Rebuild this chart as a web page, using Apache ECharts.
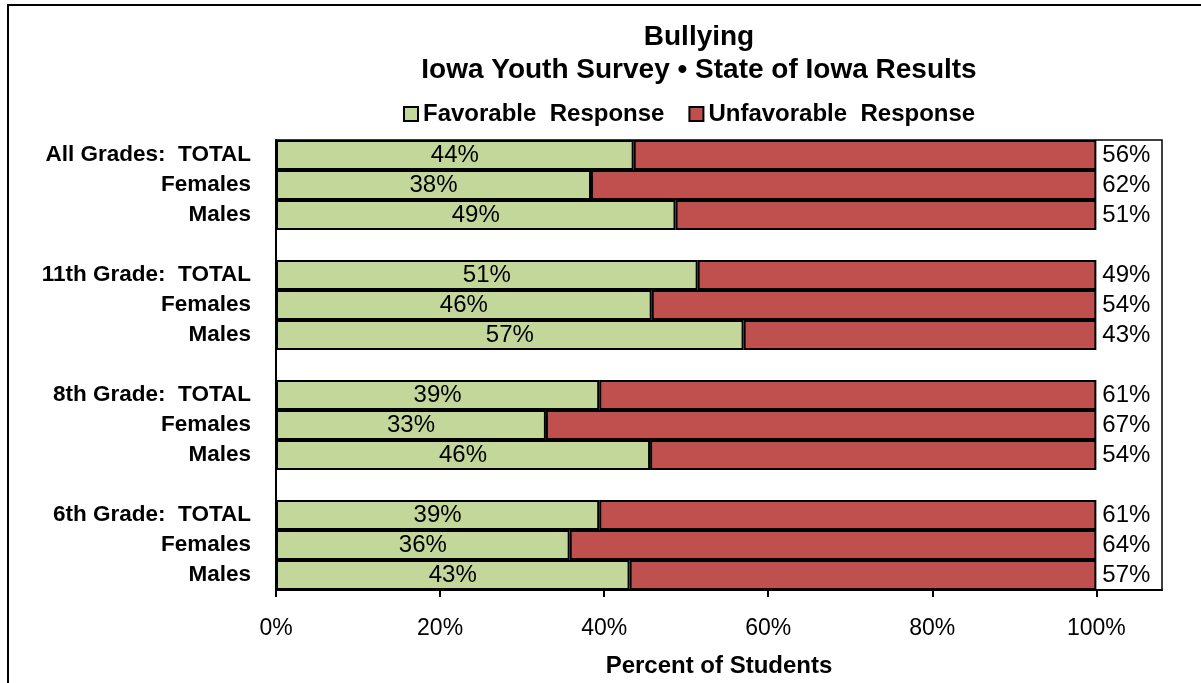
<!DOCTYPE html>
<html>
<head>
<meta charset="utf-8">
<script src="https://cdn.jsdelivr.net/npm/echarts@6/dist/echarts.min.js"></script>
<style>
  html, body { margin: 0; padding: 0; background: #fff; }
  #chart { width: 1201px; height: 683px; }
</style>
</head>
<body>
<div id="chart"></div>
<script>
// rows, top to bottom; '' rows are the gaps between grade groups
var categories = [
    'All Grades:  TOTAL', 'Females', 'Males', '',
    '11th Grade:  TOTAL', 'Females', 'Males', '',
    '8th Grade:  TOTAL', 'Females', 'Males', '',
    '6th Grade:  TOTAL', 'Females', 'Males'
];
var favorable = [43.6, 38.4, 48.7, '-', 51.4, 45.8, 57.0, '-', 39.4, 32.9, 45.6, '-', 39.4, 35.8, 43.1];
var unfavorable = [56.4, 61.6, 51.3, '-', 48.6, 54.2, 43.0, '-', 60.6, 67.1, 54.4, '-', 60.6, 64.2, 56.9];
var tickValues = [0, 20, 40, 60, 80, 100];

var font = 'Liberation Sans, Arial, sans-serif';
var pct = function (p) { return Math.round(p.value) + '%'; };

var chart = echarts.init(document.getElementById('chart'));
chart.setOption({
    animation: false,
    textStyle: { fontFamily: font },
    graphic: [
        { type: 'rect', shape: { x: 8, y: 5, width: 1300, height: 800 },
          style: { fill: 'none', stroke: '#000', lineWidth: 2 }, silent: true },
        { type: 'text', x: 699, y: 37,
          style: { text: 'Bullying', font: 'bold 28px ' + font, fill: '#000',
                   textAlign: 'center', textVerticalAlign: 'middle' } },
        { type: 'text', x: 699, y: 70,
          style: { text: 'Iowa Youth Survey \u2022 State of Iowa Results', font: 'bold 28px ' + font, fill: '#000',
                   textAlign: 'center', textVerticalAlign: 'middle' } }
    ],
    legend: {
        left: 398,
        top: 97,
        itemWidth: 14,
        itemHeight: 14,
        itemGap: 24,
        icon: 'rect',
        textStyle: { fontSize: 24, fontWeight: 'bold', color: '#000', fontFamily: font },
        data: ['Favorable  Response', 'Unfavorable  Response']
    },
    grid: {
        left: 276, top: 140, right: 39, bottom: 89,
        show: true, borderColor: '#000', borderWidth: 1.5,
        containLabel: false
    },
    xAxis: {
        type: 'value',
        min: 0,
        max: 108,
        interval: 20,
        splitLine: { show: false },
        axisLine: { show: true, lineStyle: { color: '#000', width: 2 } },
        axisTick: { show: true, length: 7, lineStyle: { color: '#000', width: 2 }, customValues: tickValues },
        axisLabel: { margin: 27, fontSize: 23, color: '#000', fontFamily: font,
                     customValues: tickValues, formatter: '{value}%' },
        name: 'Percent of Students',
        nameLocation: 'middle',
        nameGap: 64,
        nameTextStyle: { fontSize: 24, fontWeight: 'bold', color: '#000', fontFamily: font }
    },
    yAxis: {
        type: 'category',
        inverse: true,
        data: categories,
        axisLine: { show: true, lineStyle: { color: '#000', width: 2 } },
        axisTick: { show: false },
        axisLabel: { margin: 25, fontSize: 22.5, fontWeight: 'bold', color: '#000', fontFamily: font }
    },
    series: [
        {
            name: 'Favorable  Response',
            type: 'bar',
            stack: 'total',
            barCategoryGap: '0%',
            data: favorable,
            itemStyle: { color: '#C4D79B', borderColor: '#000', borderWidth: 2 },
            label: { show: true, position: 'inside', fontSize: 24, color: '#000', fontFamily: font, formatter: pct }
        },
        {
            name: 'Unfavorable  Response',
            type: 'bar',
            stack: 'total',
            barCategoryGap: '0%',
            data: unfavorable,
            itemStyle: { color: '#C0504D', borderColor: '#000', borderWidth: 2 },
            label: { show: true, position: 'right', distance: 6, fontSize: 24, color: '#000', fontFamily: font, formatter: pct }
        }
    ]
});
</script>
</body>
</html>
